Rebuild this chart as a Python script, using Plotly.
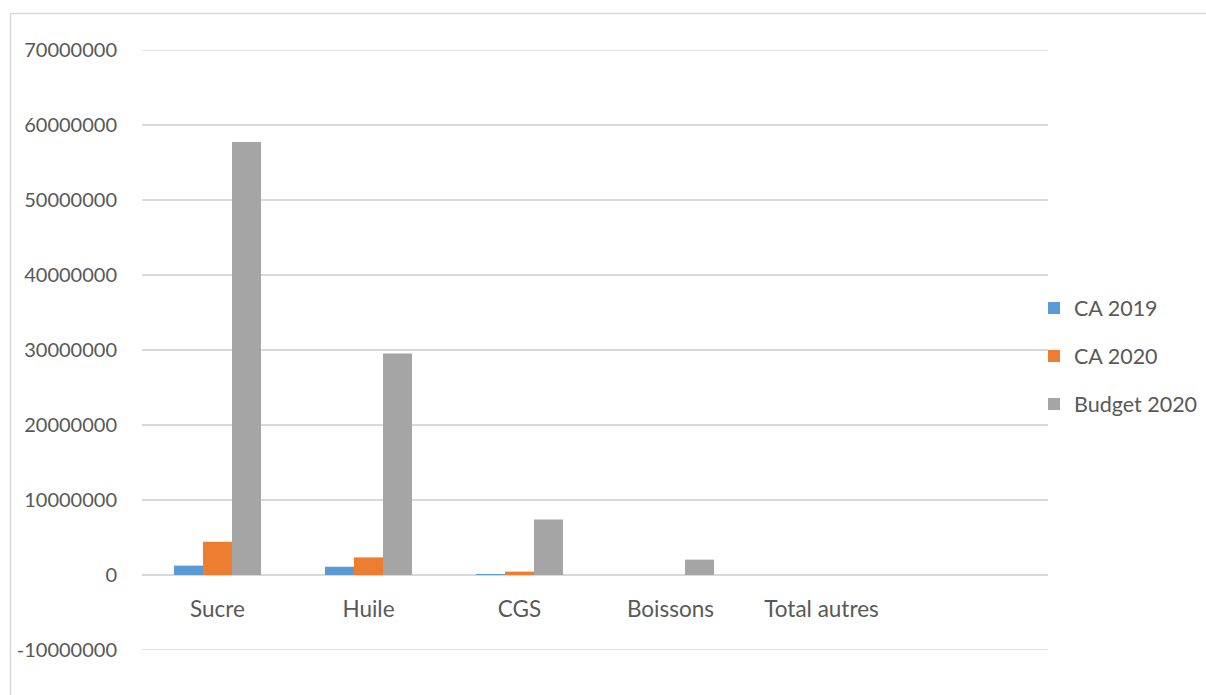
import plotly.graph_objects as go

# Categories and series values
categories = ["Sucre", "Huile", "CGS", "Boissons", "Total autres"]
ca_2019 = [1250000, 1100000, 60000, 0, 0]
ca_2020 = [4450000, 2350000, 450000, 0, 0]
budget_2020 = [57750000, 29550000, 7400000, 2050000, 0]

series_names = ["CA 2019", "CA 2020", "Budget 2020"]
series_colors = ["#5B9BD5", "#ED7D31", "#A5A5A5"]

y_ticks = list(range(-10000000, 70000001, 10000000))

W, H = 1206, 695
L, R, T, B = 142, 158, 50, 45
plot_w = W - L - R
plot_h = H - T - B

text_color = "#595959"
grid_color = "#D9D9D9"
font_family = "Lato, 'Open Sans', sans-serif"

fig = go.Figure()
for name, vals, col in zip(series_names, [ca_2019, ca_2020, budget_2020], series_colors):
    fig.add_trace(go.Bar(
        x=categories, y=vals, name=name,
        marker=dict(color=col, line=dict(width=0)),
        legendgroup=name,
    ))

y_min, y_max = y_ticks[0], y_ticks[-1]
zero_frac = (0 - y_min) / (y_max - y_min)

# Outer gridlines at the range limits, plus the chart-area border
shapes = [
    dict(type="line", xref="paper", yref="y", x0=0, x1=1, y0=v, y1=v,
         line=dict(color=grid_color, width=1.5), layer="below")
    for v in (y_min, y_max)
]
shapes.append(dict(
    type="rect", xref="paper", yref="paper",
    x0=(10.5 - L) / plot_w, x1=(W + 5 - L) / plot_w,
    y0=(H - B - (H + 5)) / plot_h, y1=(H - B - 13.5) / plot_h,
    line=dict(color=grid_color, width=1.5), fillcolor="rgba(0,0,0,0)",
    layer="below",
))

fig.update_layout(
    width=W, height=H,
    margin=dict(l=L, r=R, t=T, b=B, pad=0, autoexpand=False),
    paper_bgcolor="white", plot_bgcolor="white",
    barmode="group", bargap=0.424, bargroupgap=0,
    font=dict(family=font_family, size=20, color=text_color),
    xaxis=dict(
        type="category",
        range=[-0.5, 5.5],
        anchor="free", position=zero_frac,
        showline=False, showgrid=False, zeroline=False,
        ticks="", ticklabelstandoff=18,
        tickfont=dict(family=font_family, size=22.5, color=text_color),
        fixedrange=True, automargin=False,
    ),
    yaxis=dict(
        range=[y_min, y_max],
        tickmode="array", tickvals=y_ticks,
        ticktext=[str(v) for v in y_ticks],
        showgrid=True, gridcolor=grid_color, gridwidth=1.5,
        zeroline=True, zerolinecolor=grid_color, zerolinewidth=1.5,
        showline=False, ticks="", ticklabelstandoff=24,
        tickfont=dict(family=font_family, size=20, color=text_color),
        fixedrange=True, automargin=False,
    ),
    legend=dict(
        x=(1034 - L) / plot_w, xanchor="left",
        y=(H - B - 356) / plot_h, yanchor="middle",
        font=dict(family=font_family, size=21.5, color=text_color),
        tracegroupgap=17,
        bgcolor="rgba(0,0,0,0)",
        itemclick=False, itemdoubleclick=False,
    ),
    shapes=shapes,
)

fig.write_html("out.html", config={"displayModeBar": False})
